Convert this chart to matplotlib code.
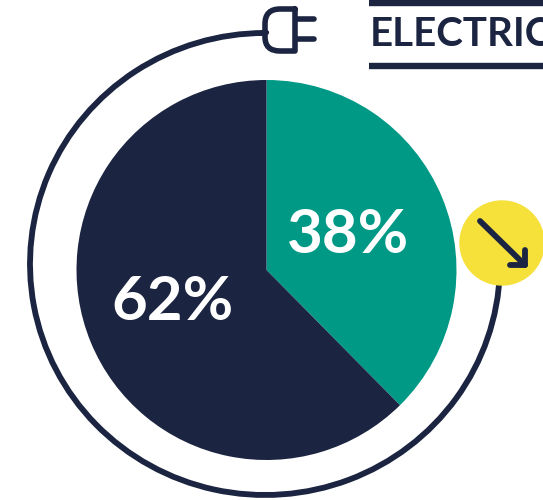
import matplotlib
matplotlib.use("Agg")
import matplotlib.pyplot as plt
from matplotlib.patches import Arc, Circle, PathPatch
from matplotlib.path import Path

# data
shares = [37.6, 62.4]
share_labels = ["38%", "62%"]
share_colors = ["#009985", "#1b2440"]
title = "ELECTRIC"

NAVY = "#1b2440"
YELLOW = "#f6e03a"
H = 500

plt.rcParams["font.family"] = ["Lato", "DejaVu Sans"]

fig = plt.figure(figsize=(5.43, 5.0), dpi=100)
ax = fig.add_axes([0, 0, 1, 1])

#pie, positions are in image pixels with y flipped
ax.pie(shares, colors=share_colors, startangle=90, counterclock=False,
       center=(266.5, H - 270), radius=190, frame=True)
ax.set_xlim(0, 543)
ax.set_ylim(0, H)
ax.set_aspect("equal")
ax.axis("off")

ax.text(348, H - 235, share_labels[0], color="white", fontsize=44.5, fontweight="bold",
        ha="center", va="center")
ax.text(173, H - 302, share_labels[1], color="white", fontsize=44.5, fontweight="bold",
        ha="center", va="center")

#ring around the pie, from the plug round the left side to the yellow circle
ax.add_patch(Arc((265, H - 264), 470, 462, theta1=90, theta2=358,
                 color=NAVY, lw=4.2))

#plug: wire, body and two prongs
ax.plot([262, 266], [H - 32, H - 32], color=NAVY, lw=3.8, solid_capstyle="round")
body = Path([(295, H - 9), (280, H - 9), (265, H - 9), (265, H - 24), (265, H - 37),
             (265, H - 51), (280, H - 51), (295, H - 51), (295, H - 9)],
            [Path.MOVETO, Path.LINETO, Path.CURVE3, Path.CURVE3, Path.LINETO,
             Path.CURVE3, Path.CURVE3, Path.LINETO, Path.LINETO])
ax.add_patch(PathPatch(body, fill=False, edgecolor=NAVY, lw=4.0, joinstyle="round",
                       capstyle="round"))
ax.plot([296, 314], [H - 19, H - 19], color=NAVY, lw=4.0, solid_capstyle="round")
ax.plot([296, 314], [H - 39, H - 39], color=NAVY, lw=4.0, solid_capstyle="round")

#yellow circle with arrow
ax.add_patch(Circle((502, H - 243), 42, color=YELLOW, zorder=3))
ax.plot([480, 525], [H - 221, H - 265], color=NAVY, lw=4.2, solid_capstyle="round", zorder=4)
ax.plot([510, 525, 525], [H - 265, H - 265, H - 250], color=NAVY, lw=4.2,
        solid_capstyle="round", solid_joinstyle="round", zorder=4)

#title with the rules above and below, cut by the right edge as in the source
ax.plot([369, 543], [H - 3, H - 3], color=NAVY, lw=4.6, solid_capstyle="butt")
ax.plot([369, 543], [H - 66, H - 66], color=NAVY, lw=4.6, solid_capstyle="butt")
ax.text(370, H - 35, title, color=NAVY, fontsize=29, fontweight="bold",
        ha="left", va="center", clip_on=True)

fig.savefig("out.png", dpi=100)
